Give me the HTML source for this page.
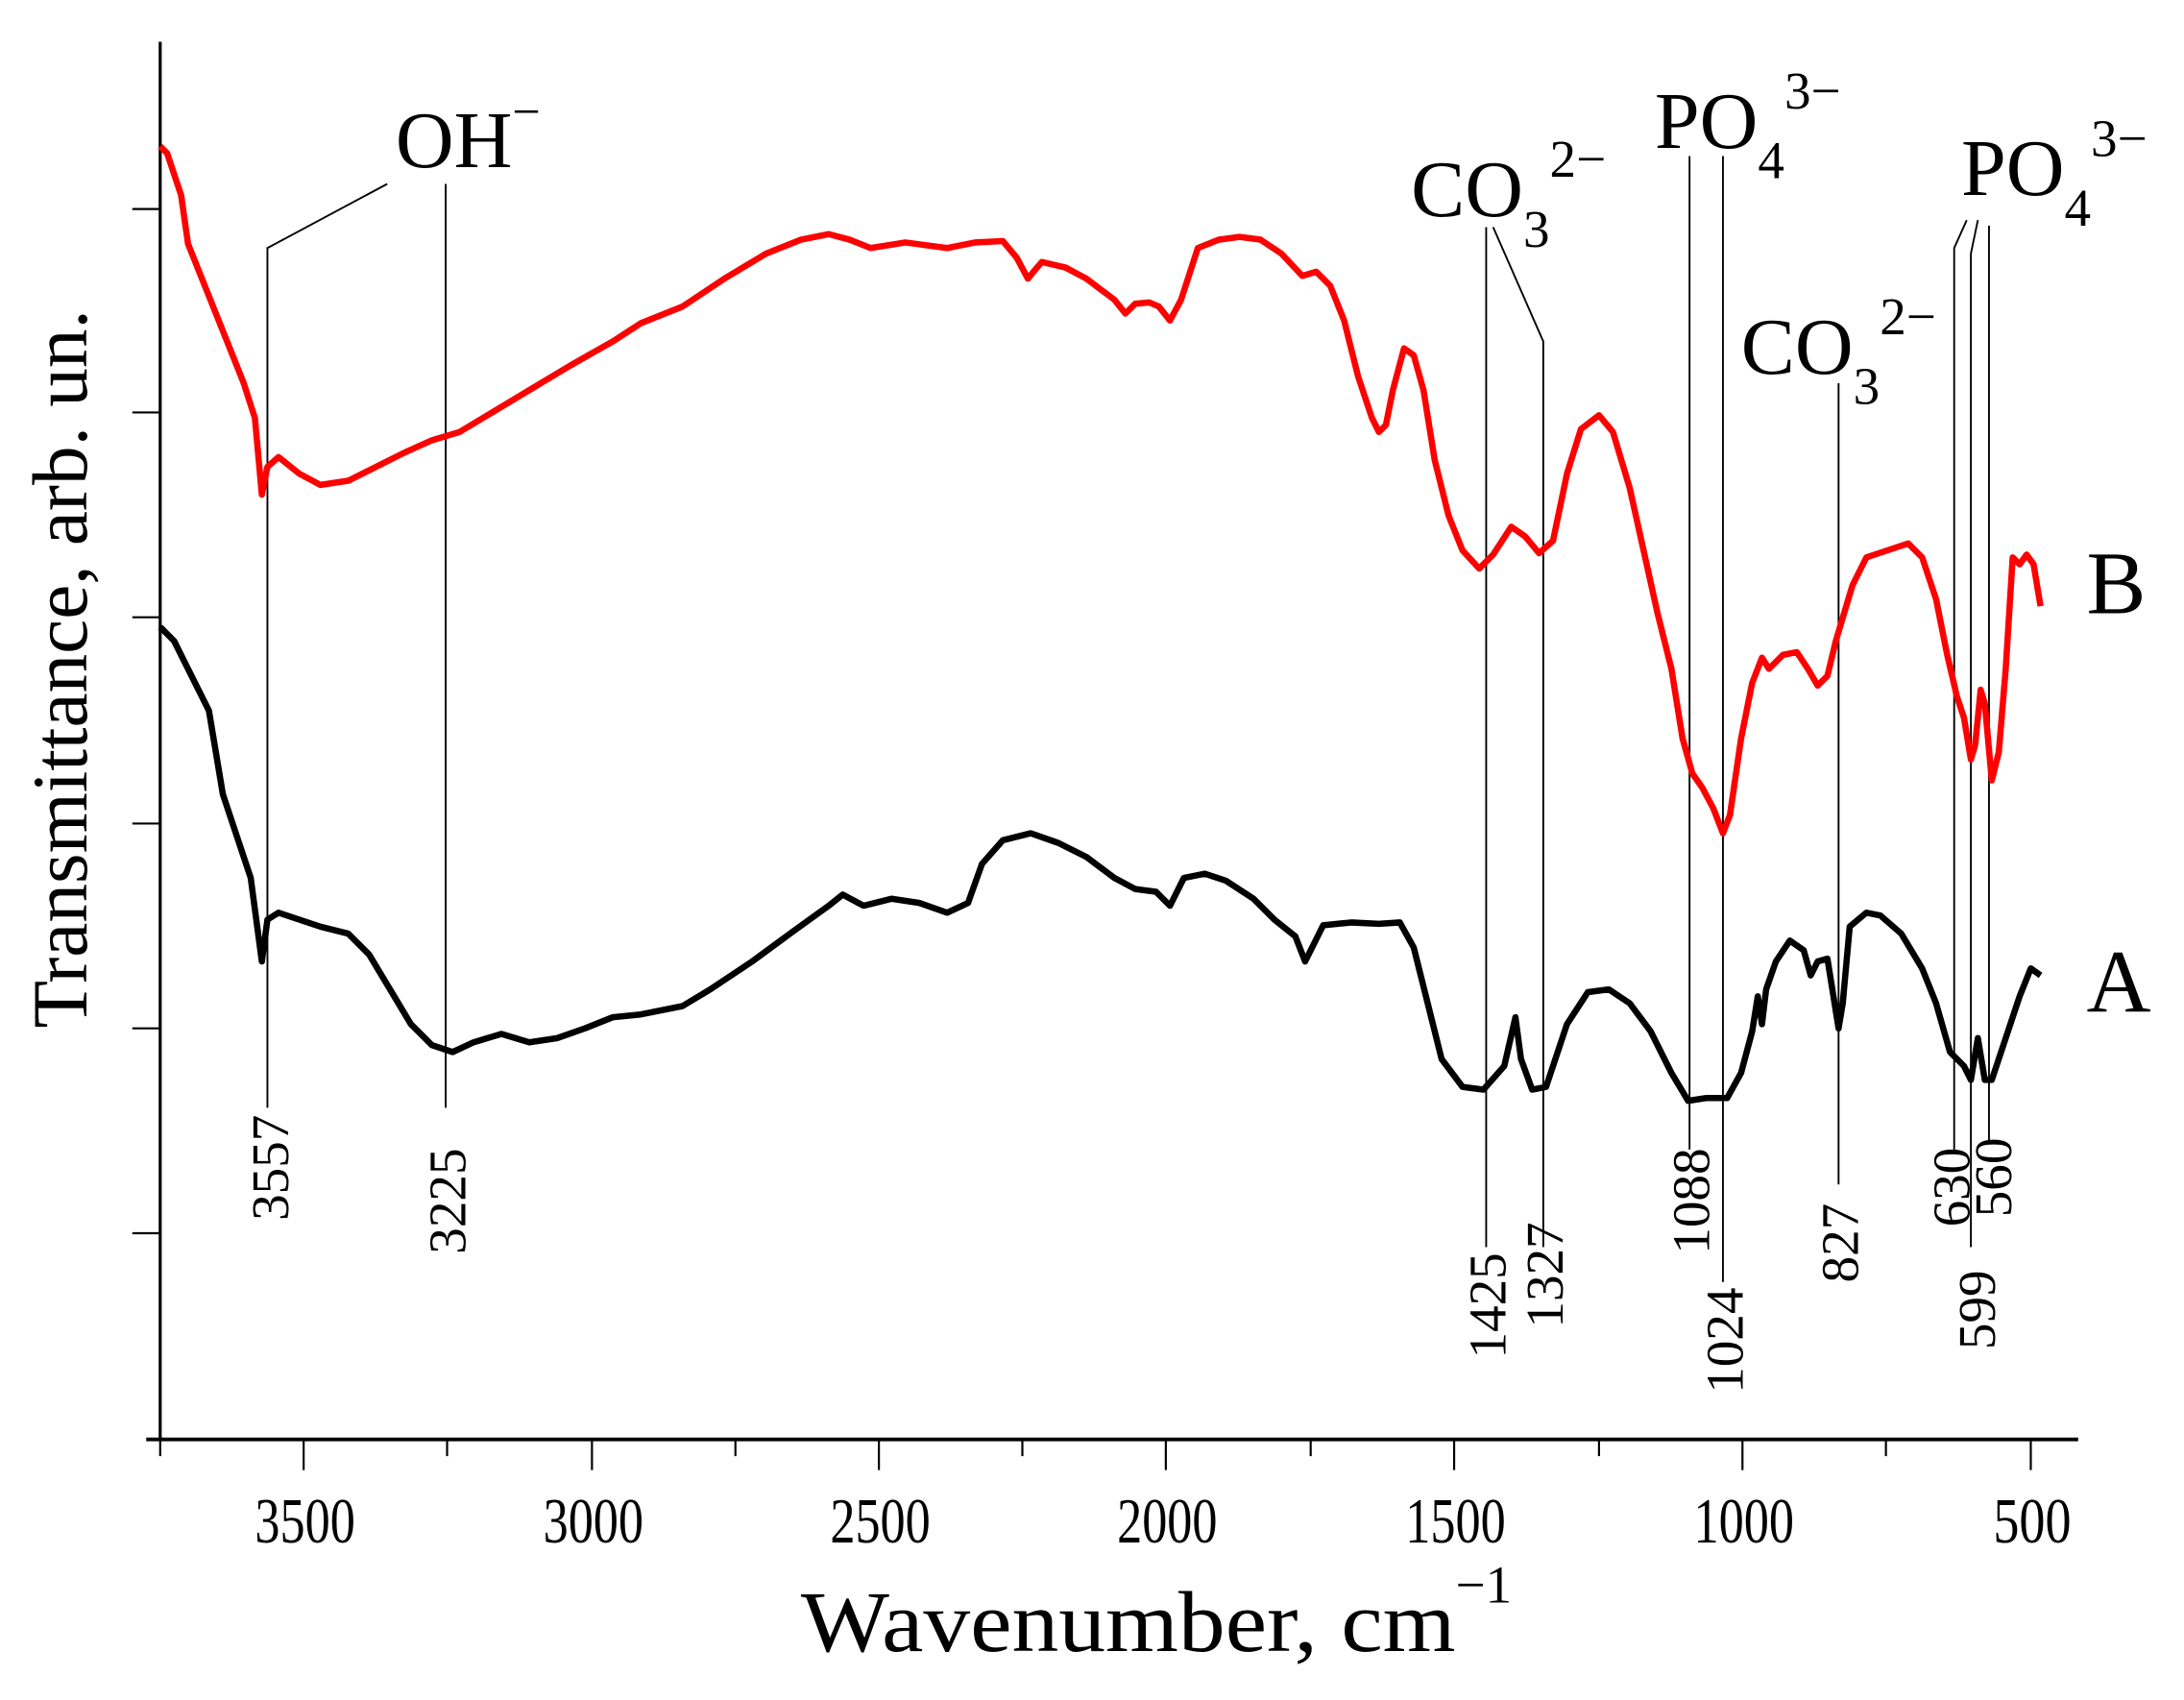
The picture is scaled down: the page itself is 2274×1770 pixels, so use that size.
<!DOCTYPE html>
<html><head><meta charset="utf-8"><style>
html,body{margin:0;padding:0;background:#fff}
svg{display:block}
text{font-family:"Liberation Serif",serif;fill:#000}
</style></head><body>
<svg width="2274" height="1770" viewBox="0 0 1568 1220" preserveAspectRatio="none" xmlns="http://www.w3.org/2000/svg">
<line x1="115" y1="30" x2="115" y2="1033" stroke="#000" stroke-width="2.2"/>
<line x1="105" y1="1033" x2="1492" y2="1033" stroke="#000" stroke-width="2.6"/>
<g stroke="#000" stroke-width="1.5">
<line x1="95" y1="150" x2="115" y2="150"/><line x1="95" y1="296" x2="115" y2="296"/>
<line x1="95" y1="443" x2="115" y2="443"/><line x1="95" y1="591" x2="115" y2="591"/>
<line x1="95" y1="738" x2="115" y2="738"/><line x1="95" y1="885" x2="115" y2="885"/>
<line x1="115" y1="1033" x2="115" y2="1045"/><line x1="218" y1="1033" x2="218" y2="1055"/>
<line x1="321" y1="1033" x2="321" y2="1045"/><line x1="425" y1="1033" x2="425" y2="1055"/>
<line x1="528" y1="1033" x2="528" y2="1045"/><line x1="631" y1="1033" x2="631" y2="1055"/>
<line x1="734" y1="1033" x2="734" y2="1045"/><line x1="837" y1="1033" x2="837" y2="1055"/>
<line x1="941" y1="1033" x2="941" y2="1045"/><line x1="1044" y1="1033" x2="1044" y2="1055"/>
<line x1="1148" y1="1033" x2="1148" y2="1045"/><line x1="1251" y1="1033" x2="1251" y2="1055"/>
<line x1="1354" y1="1033" x2="1354" y2="1045"/><line x1="1458" y1="1033" x2="1458" y2="1055"/>
</g>
<g font-size="46">
<text x="183" y="1107" textLength="72" lengthAdjust="spacingAndGlyphs">3500</text>
<text x="390" y="1107" textLength="72" lengthAdjust="spacingAndGlyphs">3000</text>
<text x="596" y="1107" textLength="72" lengthAdjust="spacingAndGlyphs">2500</text>
<text x="802" y="1107" textLength="72" lengthAdjust="spacingAndGlyphs">2000</text>
<text x="1009" y="1107" textLength="72" lengthAdjust="spacingAndGlyphs">1500</text>
<text x="1216" y="1107" textLength="72" lengthAdjust="spacingAndGlyphs">1000</text>
<text x="1431" y="1107" textLength="56" lengthAdjust="spacingAndGlyphs">500</text>
</g>
<text x="575" y="1185" font-size="62" textLength="470" lengthAdjust="spacingAndGlyphs">Wavenumber, cm</text>
<text x="1045" y="1150" font-size="38">−1</text>
<text transform="translate(62,480) rotate(-90)" font-size="56" text-anchor="middle">Transmittance, arb. un.</text>

<g stroke="#000" stroke-width="1.3" fill="none">
<polyline points="278,132 192,178 192,795"/>
<line x1="320" y1="132" x2="320" y2="795"/>
<line x1="1067" y1="163" x2="1067" y2="895"/>
<polyline points="1072,163 1108,245 1108,895"/>
<line x1="1213" y1="112" x2="1213" y2="825"/>
<line x1="1237" y1="112" x2="1237" y2="920"/>
<line x1="1320" y1="275" x2="1320" y2="850"/>
<polyline points="1412,158 1403,178 1403,825"/>
<polyline points="1420,158 1415,182 1415,895"/>
<line x1="1428" y1="162" x2="1428" y2="820"/>
</g>
<g font-size="38" text-anchor="middle">
<text transform="translate(207,838) rotate(-90)">3557</text>
<text transform="translate(334,862) rotate(-90)">3225</text>
<text transform="translate(1081,937) rotate(-90)">1425</text>
<text transform="translate(1122,915) rotate(-90)">1327</text>
<text transform="translate(1227,862) rotate(-90)">1088</text>
<text transform="translate(1251,962) rotate(-90)">1024</text>
<text transform="translate(1334,892) rotate(-90)">827</text>
<text transform="translate(1414,852) rotate(-90)">630</text>
<text transform="translate(1432,940) rotate(-90)">599</text>
<text transform="translate(1444,845) rotate(-90)">560</text>
</g>
<g font-size="58">
<text x="284" y="120">OH<tspan font-size="36" dy="-28">−</tspan></text>
<text x="1013" y="155">CO<tspan font-size="38" dy="22">3</tspan><tspan font-size="38" dy="-50">2−</tspan></text>
<text x="1188" y="106">PO<tspan font-size="38" dy="22">4</tspan><tspan font-size="38" dy="-50">3−</tspan></text>
<text x="1250" y="268">CO<tspan font-size="38" dy="22">3</tspan><tspan font-size="38" dy="-50">2−</tspan></text>
<text x="1408" y="140">PO<tspan font-size="38" dy="22">4</tspan><tspan font-size="38" dy="-50">3−</tspan></text>
<text x="1498" y="440" font-size="64">B</text>
<text x="1498" y="726" font-size="64">A</text>
</g>

<polyline fill="none" stroke="#ff0000" stroke-width="4.5" stroke-linejoin="round" points="115,105 120,110 130,140 135,175 145,200 155,225 165,250 175,275 183,300 188,355 192,335 200,328 215,340 230,348 250,345 270,335 290,325 310,316 330,310 350,298 380,280 410,262 440,245 460,232 490,220 520,200 550,182 575,172 595,168 610,172 625,178 650,174 680,178 700,174 720,173 730,185 738,200 742,195 748,188 765,192 780,200 800,215 808,225 815,218 825,217 832,220 840,230 848,215 860,178 875,172 890,170 905,172 920,182 935,198 945,195 955,205 965,230 975,270 985,300 990,310 995,305 1000,280 1008,250 1015,255 1022,280 1030,330 1040,370 1050,395 1062,408 1072,398 1085,378 1095,385 1105,397 1115,388 1125,340 1135,308 1148,298 1158,310 1170,350 1180,395 1190,440 1200,480 1208,530 1215,555 1222,565 1230,580 1237,598 1242,585 1250,530 1258,490 1265,472 1270,480 1280,470 1290,468 1298,480 1305,492 1312,485 1318,460 1330,420 1340,400 1355,395 1370,390 1380,400 1390,430 1398,470 1405,500 1410,515 1415,545 1418,535 1422,495 1425,505 1430,560 1435,540 1440,480 1445,400 1450,405 1455,398 1460,405 1465,435"/>

<polyline fill="none" stroke="#000" stroke-width="4.5" stroke-linejoin="round" points="115,450 125,460 140,490 150,510 160,570 170,600 180,630 188,690 192,660 200,655 215,660 230,665 250,670 265,685 280,710 295,735 310,750 325,755 340,748 360,742 380,748 400,745 420,738 440,730 460,728 490,722 510,710 540,690 570,668 595,650 605,642 620,650 640,645 660,648 680,655 695,648 705,620 720,603 740,598 760,605 780,615 800,630 815,638 830,640 840,650 850,630 865,627 880,632 900,645 915,660 930,672 937,690 942,680 950,664 970,662 990,663 1005,662 1015,680 1025,720 1035,760 1050,780 1065,782 1080,765 1088,730 1092,760 1100,782 1110,780 1125,735 1140,712 1155,710 1170,720 1185,740 1200,770 1212,790 1225,788 1240,788 1250,770 1258,740 1262,715 1265,735 1268,710 1275,690 1285,675 1295,682 1300,700 1305,690 1312,688 1320,738 1323,720 1328,665 1340,655 1350,657 1365,670 1380,695 1390,720 1400,755 1410,765 1415,775 1420,745 1425,775 1430,775 1440,745 1450,715 1458,695 1465,700"/>
</svg>
</body></html>
